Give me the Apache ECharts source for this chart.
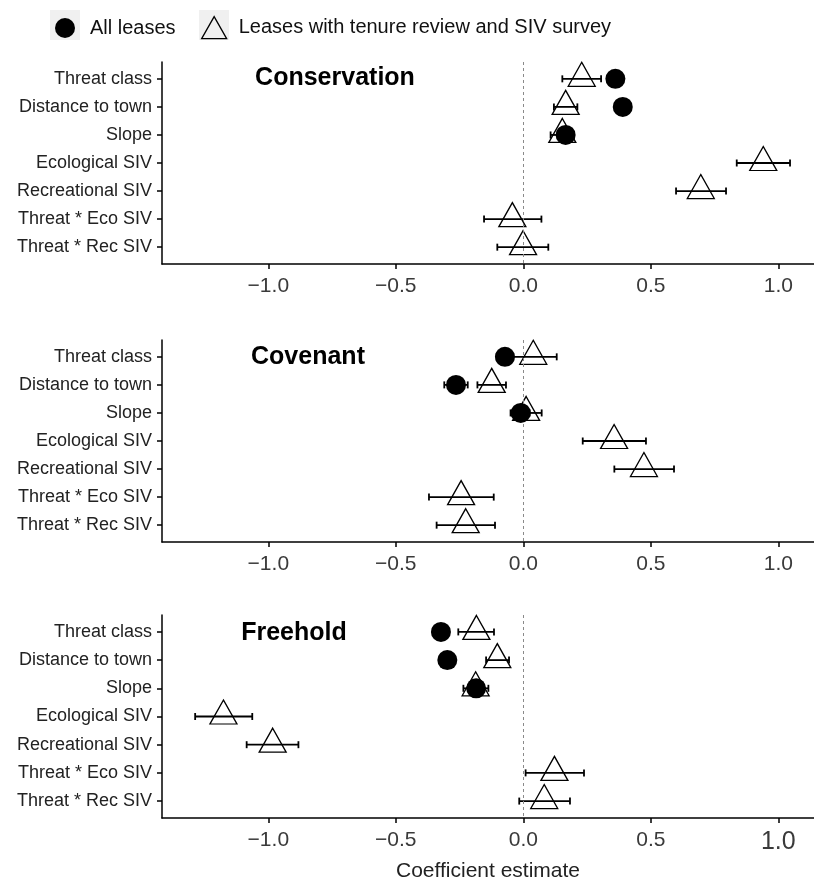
<!DOCTYPE html>
<html>
<head>
<meta charset="utf-8">
<script src="https://cdn.jsdelivr.net/npm/echarts@6/dist/echarts.min.js"></script>
<style>html,body{margin:0;padding:0;background:#fff}#c{width:814px;height:881px}</style>
</head>
<body>
<div id="c"></div>
<script>
// ---------- data ----------
const categories = ['Threat class','Distance to town','Slope','Ecological SIV','Recreational SIV','Threat * Eco SIV','Threat * Rec SIV'];
const panelNames = ['Conservation','Covenant','Freehold'];
const xTicks = [-1, -0.5, 0, 0.5, 1];
const seriesNames = ['All leases','Leases with tenure review and SIV survey'];

// Leases with tenure review and SIV survey (triangles): estimate, lower, upper
const consTriEst  = [0.229, 0.166, 0.153, 0.941, 0.696, -0.043, -0.001];
const consTriLow  = [0.153, 0.120, 0.107, 0.837, 0.599, -0.154, -0.102];
const consTriHigh = [0.305, 0.212, 0.199, 1.046, 0.795,  0.071,  0.098];
const covTriEst   = [0.039, -0.124, 0.011, 0.356, 0.473, -0.244, -0.226];
const covTriLow   = [-0.053, -0.180, -0.050, 0.233, 0.357, -0.370, -0.340];
const covTriHigh  = [0.131, -0.068, 0.072, 0.481, 0.591, -0.116, -0.111];
const freeTriEst  = [-0.184, -0.102, -0.187, -1.176, -0.983, 0.122, 0.082];
const freeTriLow  = [-0.255, -0.146, -0.235, -1.287, -1.085, 0.009, -0.016];
const freeTriHigh = [-0.115, -0.056, -0.137, -1.063, -0.882, 0.238, 0.183];

// All leases (circles): only first three predictors
const consAllEst  = [0.361, 0.390, 0.166];
const consAllLow  = [0.330, 0.360, 0.135];
const consAllHigh = [0.392, 0.420, 0.197];
const covAllEst   = [-0.072, -0.264, -0.010];
const covAllLow   = [-0.105, -0.310, -0.045];
const covAllHigh  = [-0.039, -0.218, 0.025];
const freeAllEst  = [-0.323, -0.298, -0.185];
const freeAllLow  = [-0.355, -0.328, -0.215];
const freeAllHigh = [-0.291, -0.268, -0.155];

const triEst  = [consTriEst, covTriEst, freeTriEst];
const triLow  = [consTriLow, covTriLow, freeTriLow];
const triHigh = [consTriHigh, covTriHigh, freeTriHigh];
const allEst  = [consAllEst, covAllEst, freeAllEst];
const allLow  = [consAllLow, covAllLow, freeAllLow];
const allHigh = [consAllHigh, covAllHigh, freeAllHigh];

// ---------- layout ----------
const FONT = "'Liberation Sans', Arial, Helvetica, sans-serif";
const grids = [
  {left:162, right:0, top:62, height:202, outerBoundsMode:'none', containLabel:false},
  {left:162, right:0, top:340, height:202, outerBoundsMode:'none', containLabel:false},
  {left:162, right:0, top:615, height:203, outerBoundsMode:'none', containLabel:false}
];
const titlePos = [[335, 78], [308, 357], [294, 633]];
const X_MIN = -1.417, X_MAX = 1.14;

function fmt(v){ return v.toFixed(1).replace('-', '\u2212'); }

function errRender(params, api){
  const y = api.value(0), lo = api.value(1), hi = api.value(2);
  const p1 = api.coord([lo, y]), p2 = api.coord([hi, y]);
  const h = 3.5;
  const st = {stroke:'#000', lineWidth:1.8, fill:null};
  return {type:'group', children:[
    {type:'line', shape:{x1:p1[0], y1:p1[1], x2:p2[0], y2:p2[1]}, style:st},
    {type:'line', shape:{x1:p1[0], y1:p1[1]-h, x2:p1[0], y2:p1[1]+h}, style:st},
    {type:'line', shape:{x1:p2[0], y1:p2[1]-h, x2:p2[0], y2:p2[1]+h}, style:st}
  ]};
}

const xAxes = [], yAxes = [], series = [], graphics = [];
for (let i = 0; i < 3; i++) {
  xAxes.push({
    type:'value', gridIndex:i, min:X_MIN, max:X_MAX,
    axisLine:{show:true, onZero:false, lineStyle:{color:'#000', width:1.5}},
    axisTick:{show:true, length:5, customValues:xTicks, lineStyle:{color:'#000', width:1.5}},
    axisLabel:{
      customValues:xTicks, margin:12, fontSize:21, color:'#3a3a3a', fontFamily:FONT,
      formatter: (v) => (i === 2 && Math.abs(v - 1) < 1e-9) ? '{big|' + fmt(v) + '}' : fmt(v),
      rich:{big:{fontSize:25, color:'#3a3a3a', fontFamily:FONT}}
    },
    splitLine:{show:false},
    name: i === 2 ? 'Coefficient estimate' : '',
    nameLocation:'middle', nameGap:43,
    nameTextStyle:{fontSize:21, color:'#222', fontFamily:FONT}
  });
  yAxes.push({
    type:'value', gridIndex:i, min:0.4, max:7.6, inverse:true,
    axisLine:{show:true, onZero:false, lineStyle:{color:'#000', width:1.5}},
    axisTick:{show:true, length:5, customValues:[1,2,3,4,5,6,7], lineStyle:{color:'#000', width:1.5}},
    axisLabel:{
      customValues:[1,2,3,4,5,6,7], margin:10, fontSize:18, color:'#222', fontFamily:FONT,
      formatter:(v) => categories[Math.round(v) - 1] || ''
    },
    splitLine:{show:false}
  });

  // triangle error bars
  series.push({
    type:'custom', name:'triErr' + i, xAxisIndex:i, yAxisIndex:i, z:2, silent:true,
    renderItem: errRender, encode:{x:[1,2], y:0},
    data: triLow[i].map((lo, k) => [k + 1, lo, triHigh[i][k]])
  });
  // triangles
  series.push({
    type:'scatter', name:seriesNames[1], xAxisIndex:i, yAxisIndex:i, z:3, silent:true,
    symbol:'triangle', symbolSize:[27, 24], symbolOffset:[0, -4.5],
    itemStyle:{color:'transparent', borderColor:'#000', borderWidth:1.3, opacity:1},
    data: triEst[i].map((v, k) => [v, k + 1]),
    markLine:{
      silent:true, symbol:'none', label:{show:false},
      lineStyle:{color:'#8a8a8a', width:1, type:[3,3]},
      data:[{xAxis:0}]
    }
  });
  // circle error bars
  series.push({
    type:'custom', name:'allErr' + i, xAxisIndex:i, yAxisIndex:i, z:4, silent:true,
    renderItem: errRender, encode:{x:[1,2], y:0},
    data: allLow[i].map((lo, k) => [k + 1, lo, allHigh[i][k]])
  });
  // circles
  series.push({
    type:'scatter', name:seriesNames[0], xAxisIndex:i, yAxisIndex:i, z:5, silent:true,
    symbol:'circle', symbolSize:20,
    itemStyle:{color:'#000', opacity:1},
    data: allEst[i].map((v, k) => [v, k + 1])
  });

  graphics.push({
    type:'text', x:titlePos[i][0], y:titlePos[i][1], z:10,
    style:{text:panelNames[i], font:'bold 25px ' + FONT, fill:'#000', textAlign:'center', textVerticalAlign:'middle'}
  });
}

graphics.push({type:'rect', shape:{x:50, y:10, width:30, height:30}, style:{fill:'#f0f0f0'}, z:-1});
graphics.push({type:'rect', shape:{x:199, y:10, width:30, height:30}, style:{fill:'#f0f0f0'}, z:-1});

const chart = echarts.init(document.getElementById('c'), null, {renderer:'canvas'});
chart.setOption({
  backgroundColor:'#fff',
  animation:false,
  grid: grids,
  xAxis: xAxes,
  yAxis: yAxes,
  legend:[
    {data:[{name:seriesNames[0], icon:'circle', itemStyle:{color:'#000'}}],
     left:55, top:18, padding:0, itemWidth:20, itemHeight:20, selectedMode:false,
     textStyle:{fontSize:20, color:'#111', fontFamily:FONT, padding:[0,0,0,10]}},
    {data:[{name:seriesNames[1], icon:'triangle', itemStyle:{color:'transparent', borderColor:'#000', borderWidth:1.3}}],
     left:201, top:16, padding:0, itemWidth:25, itemHeight:22, selectedMode:false,
     textStyle:{fontSize:20, color:'#111', fontFamily:FONT, padding:[0,0,0,7]}}
  ],
  graphic: graphics,
  series: series
});
</script>
</body>
</html>
